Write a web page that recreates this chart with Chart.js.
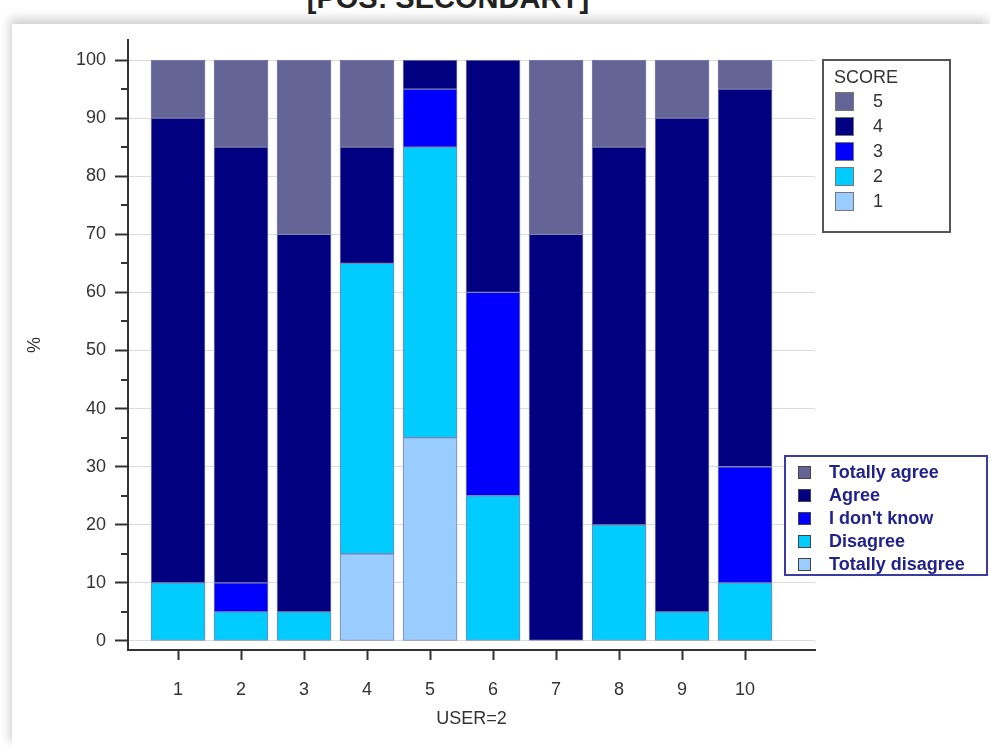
<!DOCTYPE html>
<html>
<head>
<meta charset="utf-8">
<script src="https://cdn.jsdelivr.net/npm/chart.js@4.4.1/dist/chart.umd.min.js"></script>
<style>
  html, body { margin: 0; padding: 0; width: 990px; height: 747px; overflow: hidden; background: #fff; font-family: "Liberation Sans", Arial, sans-serif; }
  #title { position: absolute; left: 0; top: -16px; width: 896px; text-align: center; font-weight: bold; font-size: 29px; line-height: 1; color: #222; }
  #panel { position: absolute; left: 12px; top: 24px; right: 0; bottom: 0; background: #fff; box-shadow: -2px -5px 10px rgba(0,0,0,0.2); }
  #wrap { position: absolute; left: 0; top: 0; width: 990px; height: 747px; }
</style>
</head>
<body>
<div id="title">[POS: SECONDARY]</div>
<div id="panel"></div>
<div id="wrap"><canvas id="scoreChart"></canvas></div>
<script>
const users = [1, 2, 3, 4, 5, 6, 7, 8, 9, 10];
const scoreLabels = ['1', '2', '3', '4', '5'];
const answerLabels = ['Totally disagree', 'Disagree', "I don't know", 'Agree', 'Totally agree'];
const scoreColors = ['#99CCFF', '#00CCFF', '#0000FF', '#000080', '#646496'];

// % per user, one array per score (bottom of stack first)
const score1 = [0, 0, 0, 15, 35, 0, 0, 0, 0, 0];
const score2 = [10, 5, 5, 50, 50, 25, 0, 20, 5, 10];
const score3 = [0, 5, 0, 0, 10, 35, 0, 0, 0, 20];
const score4 = [80, 75, 65, 20, 5, 40, 70, 65, 85, 65];
const score5 = [10, 15, 30, 15, 0, 0, 30, 15, 10, 5];
const scoreValues = [score1, score2, score3, score4, score5];

const yTicks = [0, 10, 20, 30, 40, 50, 60, 70, 80, 90, 100];
const yMinorTicks = [5, 15, 25, 35, 45, 55, 65, 75, 85, 95];

const axisColor = '#333';
const font = '"Liberation Sans", Arial, sans-serif';

const extras = {
    id: 'extras',
    afterDraw(chart) {
        const ctx = chart.ctx;
        const y = chart.scales.y;
        ctx.save();

        // minor ticks on the y axis
        ctx.strokeStyle = axisColor;
        ctx.lineWidth = 2;
        yMinorTicks.forEach(v => {
            const py = Math.round(y.getPixelForValue(v));
            ctx.beginPath();
            ctx.moveTo(y.right - 7, py);
            ctx.lineTo(y.right, py);
            ctx.stroke();
        });

        // SCORE legend
        ctx.lineWidth = 2;
        ctx.strokeStyle = '#555';
        ctx.fillStyle = '#fff';
        ctx.fillRect(823, 60, 127, 172);
        ctx.strokeRect(823, 60, 127, 172);
        ctx.fillStyle = '#333';
        ctx.font = '18px ' + font;
        ctx.textBaseline = 'middle';
        ctx.fillText('SCORE', 834, 78);
        for (let i = scoreLabels.length - 1, row = 0; i >= 0; i--, row++) {
            const cy = 101 + row * 25;
            ctx.fillStyle = scoreColors[i];
            ctx.fillRect(835, cy - 9, 19, 19);
            ctx.lineWidth = 1;
            ctx.strokeStyle = '#777';
            ctx.strokeRect(835.5, cy - 8.5, 18, 18);
            ctx.fillStyle = '#333';
            ctx.fillText(scoreLabels[i], 873, cy + 1);
        }

        // answer legend
        ctx.lineWidth = 2;
        ctx.strokeStyle = '#3c3ca0';
        ctx.fillStyle = '#fff';
        ctx.fillRect(785, 456, 202, 119);
        ctx.strokeRect(785, 456, 202, 119);
        ctx.font = 'bold 18px ' + font;
        for (let i = answerLabels.length - 1, row = 0; i >= 0; i--, row++) {
            const cy = 472 + row * 23;
            ctx.fillStyle = scoreColors[i];
            ctx.fillRect(798, cy - 6, 13, 13);
            ctx.lineWidth = 1;
            ctx.strokeStyle = '#444';
            ctx.strokeRect(798.5, cy - 5.5, 12, 12);
            ctx.fillStyle = '#22228c';
            ctx.fillText(answerLabels[i], 829, cy + 1);
        }
        ctx.restore();
    }
};

const ctx = document.getElementById('scoreChart').getContext('2d');
new Chart(ctx, {
    type: 'bar',
    data: {
        datasets: scoreValues.map((vals, i) => ({
            label: scoreLabels[i],
            data: users.map((u, j) => ({ x: u, y: vals[j] || null })),
            backgroundColor: scoreColors[i],
            borderColor: '#8080aa',
            borderWidth: 1,
            borderSkipped: false,
            barThickness: 54
        }))
    },
    options: {
        responsive: true,
        maintainAspectRatio: false,
        animation: false,
        layout: { padding: { top: 40, right: 175, left: 0, bottom: 0 } },
        scales: {
            x: {
                type: 'linear',
                stacked: true,
                offset: false,
                min: 0.206,
                max: 11.11,
                afterBuildTicks: scale => { scale.ticks = users.map(v => ({ value: v })); },
                afterFit: scale => { scale.height = 97; },
                grid: {
                    offset: false,
                    drawOnChartArea: false,
                    drawTicks: true,
                    tickLength: 10,
                    tickColor: axisColor,
                    tickWidth: 2
                },
                border: { display: true, color: axisColor, width: 2 },
                ticks: {
                    padding: 19,
                    color: '#333',
                    font: { family: font, size: 18 },
                    callback: v => String(v)
                },
                title: {
                    display: true,
                    text: 'USER=2',
                    color: '#333',
                    font: { family: font, size: 18 },
                    padding: { top: 0, bottom: 17 }
                }
            },
            y: {
                stacked: true,
                min: -1.55,
                max: 103.45,
                afterBuildTicks: scale => { scale.ticks = yTicks.map(v => ({ value: v })); },
                afterFit: scale => { scale.width = 128; },
                grid: {
                    color: '#dcdcdc',
                    lineWidth: 1,
                    drawTicks: true,
                    tickLength: 13,
                    tickColor: axisColor,
                    tickWidth: 2
                },
                border: { display: true, color: axisColor, width: 2 },
                ticks: {
                    padding: 9,
                    color: '#333',
                    font: { family: font, size: 18 }
                },
                title: {
                    display: true,
                    text: '%',
                    color: '#333',
                    font: { family: font, size: 18 },
                    padding: { top: 24, bottom: 0 }
                }
            }
        },
        plugins: {
            legend: { display: false },
            tooltip: { enabled: false }
        }
    },
    plugins: [extras]
});
</script>
</body>
</html>
